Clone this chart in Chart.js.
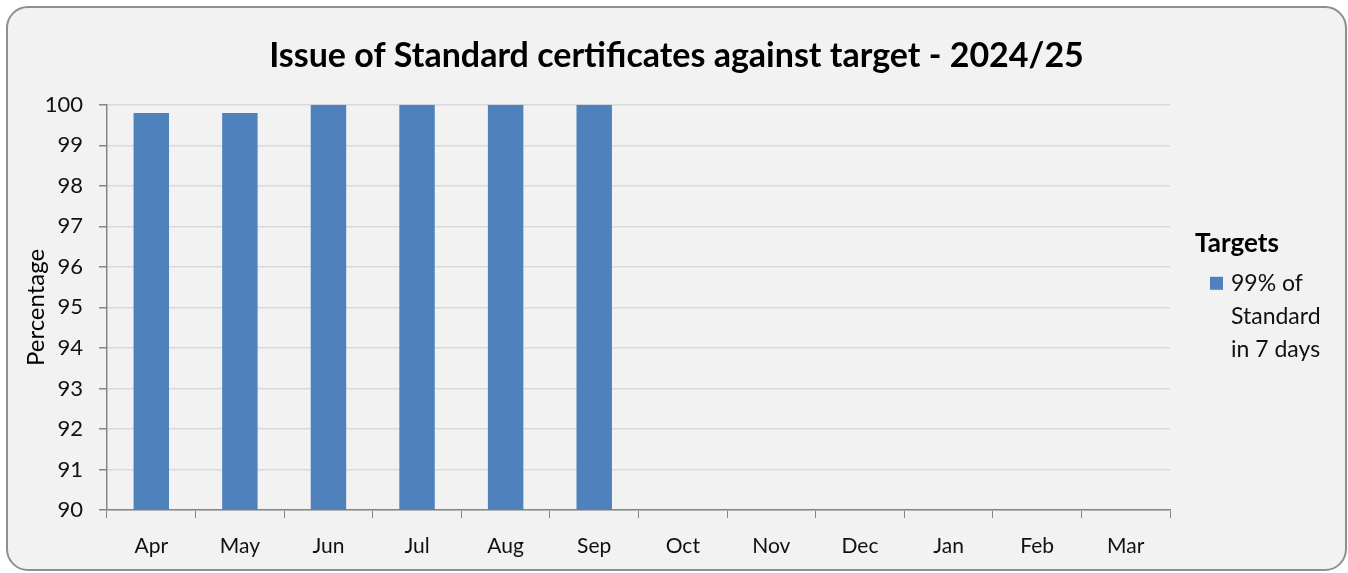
<!DOCTYPE html>
<html>
<head>
<meta charset="utf-8">
<script src="https://cdn.jsdelivr.net/npm/chart.js@4"></script>
<style>
  html, body { margin: 0; padding: 0; background: #ffffff; }
  #frame {
    position: absolute; left: 6px; top: 6px;
    width: 1337px; height: 561px;
    border: 2px solid #8f8f8f; border-radius: 22px;
    background: #f2f2f2; overflow: hidden;
  }
  canvas { display: block; }
</style>
</head>
<body>
<div id="frame"><canvas id="chart" width="1337" height="561"></canvas></div>
<script>
// ===== Data =====
const MONTHS = ['Apr', 'May', 'Jun', 'Jul', 'Aug', 'Sep', 'Oct', 'Nov', 'Dec', 'Jan', 'Feb', 'Mar'];
const PCT_IN_7_DAYS = [99.8, 99.8, 100, 100, 100, 100, null, null, null, null, null, null];
const SERIES_LABEL = ['99% of', 'Standard', 'in 7 days'];
const LEGEND_TITLE = 'Targets';
const CHART_TITLE = 'Issue of Standard certificates against target - 2024/25';

const FONT = 'Lato, "Open Sans", sans-serif';
const BAR_BLUE = '#4f81bd';
const AXIS_GREY = '#868686';

// Legend on the right, with wrapped text (drawn by hand)
const sideLegendPlugin = {
  id: 'sideLegend',
  afterDraw(chart) {
    const { ctx, chartArea } = chart;
    const x0 = chartArea.right + 25;
    ctx.save();
    ctx.fillStyle = '#000';
    ctx.textBaseline = 'alphabetic';
    ctx.font = 'bold 26px ' + FONT;
    ctx.fillText(LEGEND_TITLE, x0, chartArea.top + 147);

    const ds = chart.data.datasets[0];
    ctx.fillStyle = ds.backgroundColor;
    ctx.fillRect(x0 + 15, chartArea.top + 172, 13, 13);

    ctx.fillStyle = '#111';
    ctx.font = '23px ' + FONT;
    SERIES_LABEL.forEach((line, i) => {
      ctx.fillText(line, x0 + 36, chartArea.top + 186 + i * 33);
    });
    ctx.restore();
  }
};

new Chart(document.getElementById('chart'), {
  type: 'bar',
  data: {
    labels: MONTHS,
    datasets: [{
      label: SERIES_LABEL.join(' '),
      data: PCT_IN_7_DAYS,
      backgroundColor: BAR_BLUE,
      categoryPercentage: 1,
      barPercentage: 0.4
    }]
  },
  options: {
    responsive: false,
    animation: false,
    layout: { padding: 0 },
    plugins: {
      legend: { display: false },
      tooltip: { enabled: false },
      title: {
        display: true,
        text: CHART_TITLE,
        color: '#000',
        font: { family: FONT, size: 34, weight: 'bold' },
        padding: { top: 28, bottom: 28 }
      }
    },
    scales: {
      x: {
        offset: true,
        grid: {
          offset: true,
          drawOnChartArea: false,
          drawTicks: true,
          tickLength: 8,
          tickColor: AXIS_GREY
        },
        border: { color: AXIS_GREY, width: 1.5 },
        ticks: { color: '#111', font: { family: FONT, size: 21 }, padding: 16 },
        afterFit(scale) { scale.height = 59; }
      },
      y: {
        min: 90,
        max: 100,
        ticks: { stepSize: 1, color: '#111', font: { family: FONT, size: 22 }, padding: 16 },
        grid: { color: '#d9d9d9', lineWidth: 1.5, tickLength: 8, tickColor: AXIS_GREY },
        border: { color: AXIS_GREY, width: 1.5 },
        title: {
          display: true,
          text: 'Percentage',
          color: '#000',
          font: { family: FONT, size: 24 },
          padding: { top: 14, bottom: 0 }
        },
        afterFit(scale) { scale.width = 99; }
      },
      // empty right-hand box that leaves room for the legend
      side: {
        type: 'linear',
        position: 'right',
        display: true,
        grid: { display: false, drawTicks: false },
        border: { display: false },
        ticks: { display: false },
        afterFit(scale) { scale.width = 175; }
      }
    }
  },
  plugins: [sideLegendPlugin]
});
</script>
</body>
</html>
